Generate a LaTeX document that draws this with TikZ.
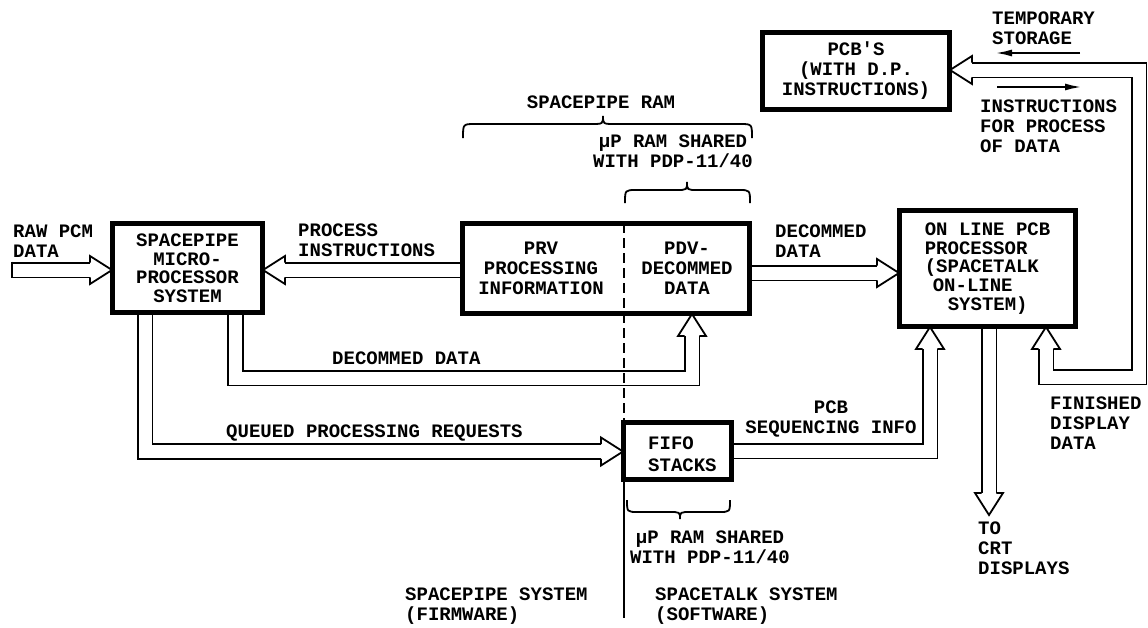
\documentclass[tikz,border=0pt]{standalone}
\usepackage{fontspec}
\setmainfont{Liberation Mono}
\usetikzlibrary{arrows.meta,calc}
\begin{document}
\begin{tikzpicture}[x=1pt,y=-1pt,
  font=\bfseries\fontsize{19}{20}\selectfont,
  box/.style={draw, line width=3.2pt, inner sep=0pt, align=center},
  lbl/.style={inner sep=0pt, align=left, anchor=north west},
  clbl/.style={inner sep=0pt, align=center},
  dbl/.style={draw, line width=1.8pt, double=white, double distance=13pt, line join=miter},
  hd/.pic={\draw[line width=1.8pt, line join=miter] (-22,7.4) -- (-22,14) -- (0,0) -- (-22,-14) -- (-22,-7.4);},
  brcline/.style={line width=1.8pt},
  divline/.style={line width=2pt, dash pattern=on 10pt off 5pt},
  thinarr/.style={line width=2.2pt, -{Latex[length=17pt,width=7pt]}}
]
\useasboundingbox (0,0) rectangle (1148,627);

% boxes
\node[box, minimum width=147.8pt, minimum height=86.8pt, font=\bfseries\fontsize{19}{18.5}\selectfont] (sp) at (187.5,268) {SPACEPIPE\\MICRO-\\PROCESSOR\\SYSTEM};
\node[box, minimum width=284.8pt, minimum height=87.8pt] (ram) at (606,268.5) {};
\node[clbl] (prv) at (541,268) {PRV\\PROCESSING\\INFORMATION};
\node[clbl] (pdv) at (687,268) {PDV-\\DECOMMED\\DATA};
\node[box, minimum width=173.8pt, minimum height=113.8pt, align=left, font=\bfseries\fontsize{19}{18.8}\selectfont] (onl) at (987.5,268.5) {ON LINE PCB\\PROCESSOR\\(SPACETALK\\\hspace{8pt}ON-LINE\\\hspace{23pt}SYSTEM)};
\node[box, minimum width=184.8pt, minimum height=74.8pt] (pcbs) at (856,71) {PCB\textquotesingle S\\(WITH D.P.\\INSTRUCTIONS)};
\node[box, minimum width=105.8pt, minimum height=54.8pt] (fifo) at (677.5,451) {};
\node[lbl, anchor=west, font=\bfseries\fontsize{19}{22}\selectfont] (fifot) at (648,454) {FIFO\\STACKS};

% coordinates
\coordinate (rawin) at (12,270);
\coordinate (procy) at (0,270);
\coordinate (decy) at (0,273);
\coordinate (dl1) at (235.5,378);
\coordinate (dl2) at (692,378);
\coordinate (q1) at (145,451.5);
\coordinate (ps1) at (930,451);
\coordinate (crt) at (989,515);
\coordinate (lp1) at (1046,377);
\coordinate (lp2) at (1139,377);
\coordinate (lp3) at (1139,70);
\coordinate (dv) at (624,0);
\coordinate (dvend) at (624,618);

% double arrows
\draw[dbl] (rawin) -- ($(sp.west |- rawin)+(-22,0)$);
\pic at (sp.west |- rawin) {hd};
\draw[line width=1.8pt] ($(rawin)+(0,-8.3)$) -- ($(rawin)+(0,8.3)$);

\draw[dbl] (ram.west |- procy) -- ($(sp.east |- procy)+(22,0)$);
\pic[rotate=180] at (sp.east |- procy) {hd};

\draw[dbl] (ram.east |- decy) -- ($(onl.west |- decy)+(-22,0)$);
\pic at (onl.west |- decy) {hd};

\draw[dbl] (sp.south -| dl1) -- (dl1) -- (dl2) -- ($(ram.south -| dl2)+(0,22)$);
\pic[rotate=90] at (ram.south -| dl2) {hd};

\draw[dbl] (sp.south -| q1) -- (q1) -- ($(fifo.west |- q1)+(-22,0)$);
\pic at (fifo.west |- q1) {hd};

\draw[dbl] (fifo.east |- ps1) -- (ps1) -- ($(onl.south -| ps1)+(0,22)$);
\pic[rotate=90] at (onl.south -| ps1) {hd};

\draw[dbl] (onl.south -| crt) -- ($(crt)+(0,-22)$);
\pic[rotate=-90] at (crt) {hd};

\draw[dbl] ($(onl.south -| lp1)+(0,22)$) -- (lp1) -- (lp2) -- (lp3) -- ($(pcbs.east |- lp3)+(22,0)$);
\pic[rotate=90] at (onl.south -| lp1) {hd};
\pic[rotate=180] at (pcbs.east |- lp3) {hd};

% redraw box borders on top
\draw[line width=3.2pt] (sp.north west) rectangle (sp.south east);
\draw[line width=3.2pt] (ram.north west) rectangle (ram.south east);
\draw[line width=3.2pt] (onl.north west) rectangle (onl.south east);
\draw[line width=3.2pt] (pcbs.north west) rectangle (pcbs.south east);
\draw[line width=3.2pt] (fifo.north west) rectangle (fifo.south east);

% divider
\draw[divline] (ram.north -| dv) -- (fifo.north -| dv);
\draw[line width=2pt] (fifo.south -| dv) -- (dvend);

% braces
\draw[brcline] (463,138) .. controls (463,124) .. (475,124) -- (591,124) .. controls (603,124) .. (603,116) .. controls (603,124) .. (615,124) -- (740,124) .. controls (752,124) .. (752,138);
\draw[brcline] (625,203) .. controls (625,190) .. (636,190) -- (676,190) .. controls (687,190) .. (687,182) .. controls (687,190) .. (698,190) -- (739,190) .. controls (750,190) .. (750,203);
\draw[brcline] (627,500) .. controls (627,512) .. (638,512) -- (669,512) .. controls (680,512) .. (680,519) .. controls (680,512) .. (691,512) -- (719,512) .. controls (730,512) .. (730,500);

% thin arrows
\coordinate (ts1) at (1080,53);
\coordinate (ts2) at (995,53);
\coordinate (ip1) at (997,87);
\coordinate (ip2) at (1082,87);
\draw[thinarr] (ts1) -- (ts2);
\draw[thinarr] (ip1) -- (ip2);

% labels
\node[lbl] (l1) at (13,225) {RAW PCM\\DATA};
\node[lbl] (l2) at (298,224) {PROCESS\\INSTRUCTIONS};
\node[clbl] (l3) at (601,102) {SPACEPIPE RAM};
\node[clbl] (l4) at (673,151.5) {μP RAM SHARED\\WITH PDP-11/40};
\node[lbl] (l5) at (775,224.5) {DECOMMED\\DATA};
\node[lbl] (l6) at (992,11.5) {TEMPORARY\\STORAGE};
\node[lbl] (l7) at (980,99.5) {INSTRUCTIONS\\FOR PROCESS\\OF DATA};
\node[lbl] (l8) at (332,351.5) {DECOMMED DATA};
\node[lbl] (l9) at (226,424.5) {QUEUED PROCESSING REQUESTS};
\node[clbl] (l10) at (831,419) {PCB\\SEQUENCING INFO};
\node[lbl] (l11) at (1050,396.5) {FINISHED\\DISPLAY\\DATA};
\node[lbl] (l12) at (978,521.5) {TO\\CRT\\DISPLAYS};
\node[clbl] (l13) at (710,547) {μP RAM SHARED\\WITH PDP-11/40};
\node[lbl] (l14) at (405,587.5) {SPACEPIPE SYSTEM\\(FIRMWARE)};
\node[lbl] (l15) at (655,587.5) {SPACETALK SYSTEM\\(SOFTWARE)};
\end{tikzpicture}
\end{document}
